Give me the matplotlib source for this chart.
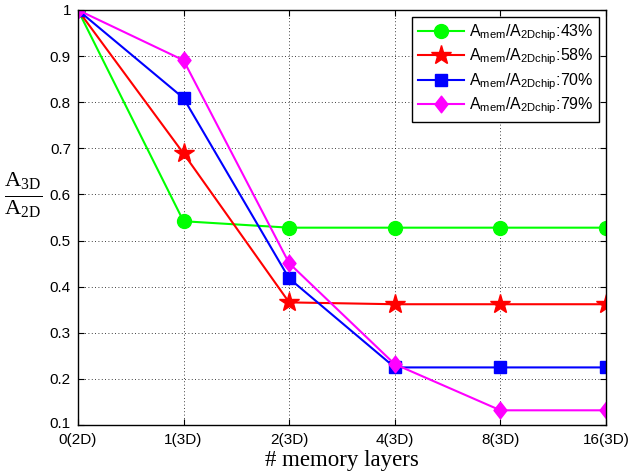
import matplotlib
matplotlib.use("Agg")
import matplotlib.pyplot as plt
from matplotlib.path import Path
from matplotlib.transforms import ScaledTranslation

plt.rcParams['font.family'] = ['Liberation Sans', 'DejaVu Sans']
plt.rcParams['mathtext.fontset'] = 'custom'
plt.rcParams['mathtext.rm'] = 'Liberation Serif'
plt.rcParams['mathtext.it'] = 'Liberation Serif:italic'
plt.rcParams['mathtext.sf'] = 'Liberation Sans'

layers = ['0(2D)', '1(3D)', '2(3D)', '4(3D)', '8(3D)', '16(3D)']
ratio_43 = [1, 0.542, 0.528, 0.528, 0.528, 0.528]
ratio_58 = [1, 0.689, 0.366, 0.362, 0.362, 0.362]
ratio_70 = [1, 0.809, 0.418, 0.225, 0.225, 0.225]
ratio_79 = [1, 0.891, 0.451, 0.232, 0.132, 0.132]
labels = ['43%', '58%', '70%', '79%']

# taller-than-wide diamond like the original
tall_diamond = Path([(0, 1), (0.78, 0), (0, -1), (-0.78, 0), (0, 1)],
                    [Path.MOVETO, Path.LINETO, Path.LINETO, Path.LINETO, Path.CLOSEPOLY])

fig = plt.figure(figsize=(6.28, 4.76), dpi=100)
ax = fig.add_axes([0.124, 0.107, 0.841, 0.872])

x = range(len(layers))
series = [
    (ratio_43, '#00ff00', 'o', 10),
    (ratio_58, '#ff0000', '*', 15),
    (ratio_70, '#0000ff', 's', 8),
    (ratio_79, '#ff00ff', tall_diamond, 12),
]
for (vals, color, marker, ms), lab in zip(series, labels):
    ax.plot(x, vals, color=color, marker=marker, markersize=ms, linewidth=1.5,
            label=r'A$_{\mathsf{mem}}$/A$_{\mathsf{2Dchip}}$:' + lab)

ax.set_xlim(0, len(layers) - 1)
ax.set_ylim(0.1, 1)
ax.set_xticks(list(x))
ax.set_xticklabels(layers, fontsize=11)
ax.set_yticks([0.1, 0.2, 0.3, 0.4, 0.5, 0.6, 0.7, 0.8, 0.9, 1])
ax.set_yticklabels(['0.1', '0.2', '0.3', '0.4', '0.5', '0.6', '0.7', '0.8', '0.9', '1'], fontsize=11)
ax.tick_params(direction='in', length=4, top=True, right=True)
ax.tick_params(axis='x', pad=6)
ax.tick_params(axis='y', pad=5)
ax.grid(True, linestyle=(0, (1, 3)), color='black', linewidth=0.6)

# nudge the lowest y label up a little, as in the original
lbl = ax.get_yticklabels()[0]
lbl.set_transform(lbl.get_transform() + ScaledTranslation(0, 3 / 100, fig.dpi_scale_trans))

for s in ax.spines.values():
    s.set_linewidth(1.0)

ax.set_xlabel('# memory layers', fontsize=16.5, family='Liberation Serif', labelpad=2)
ax.set_ylabel(r'$\frac{\mathrm{A}_{\mathrm{3D}}}{\mathrm{A}_{\mathrm{2D}}}$', fontsize=23,
              rotation=0, va='center', ha='center')
ax.yaxis.set_label_coords(-0.104, 0.553)

leg = ax.legend(loc='upper right', fontsize=11.5, fancybox=False, framealpha=1,
                edgecolor='black', handlelength=2.9, borderaxespad=0.45,
                labelspacing=0.25, borderpad=0.35, handletextpad=0.3)
leg.get_frame().set_linewidth(1.0)

fig.savefig('out.png', dpi=100)
